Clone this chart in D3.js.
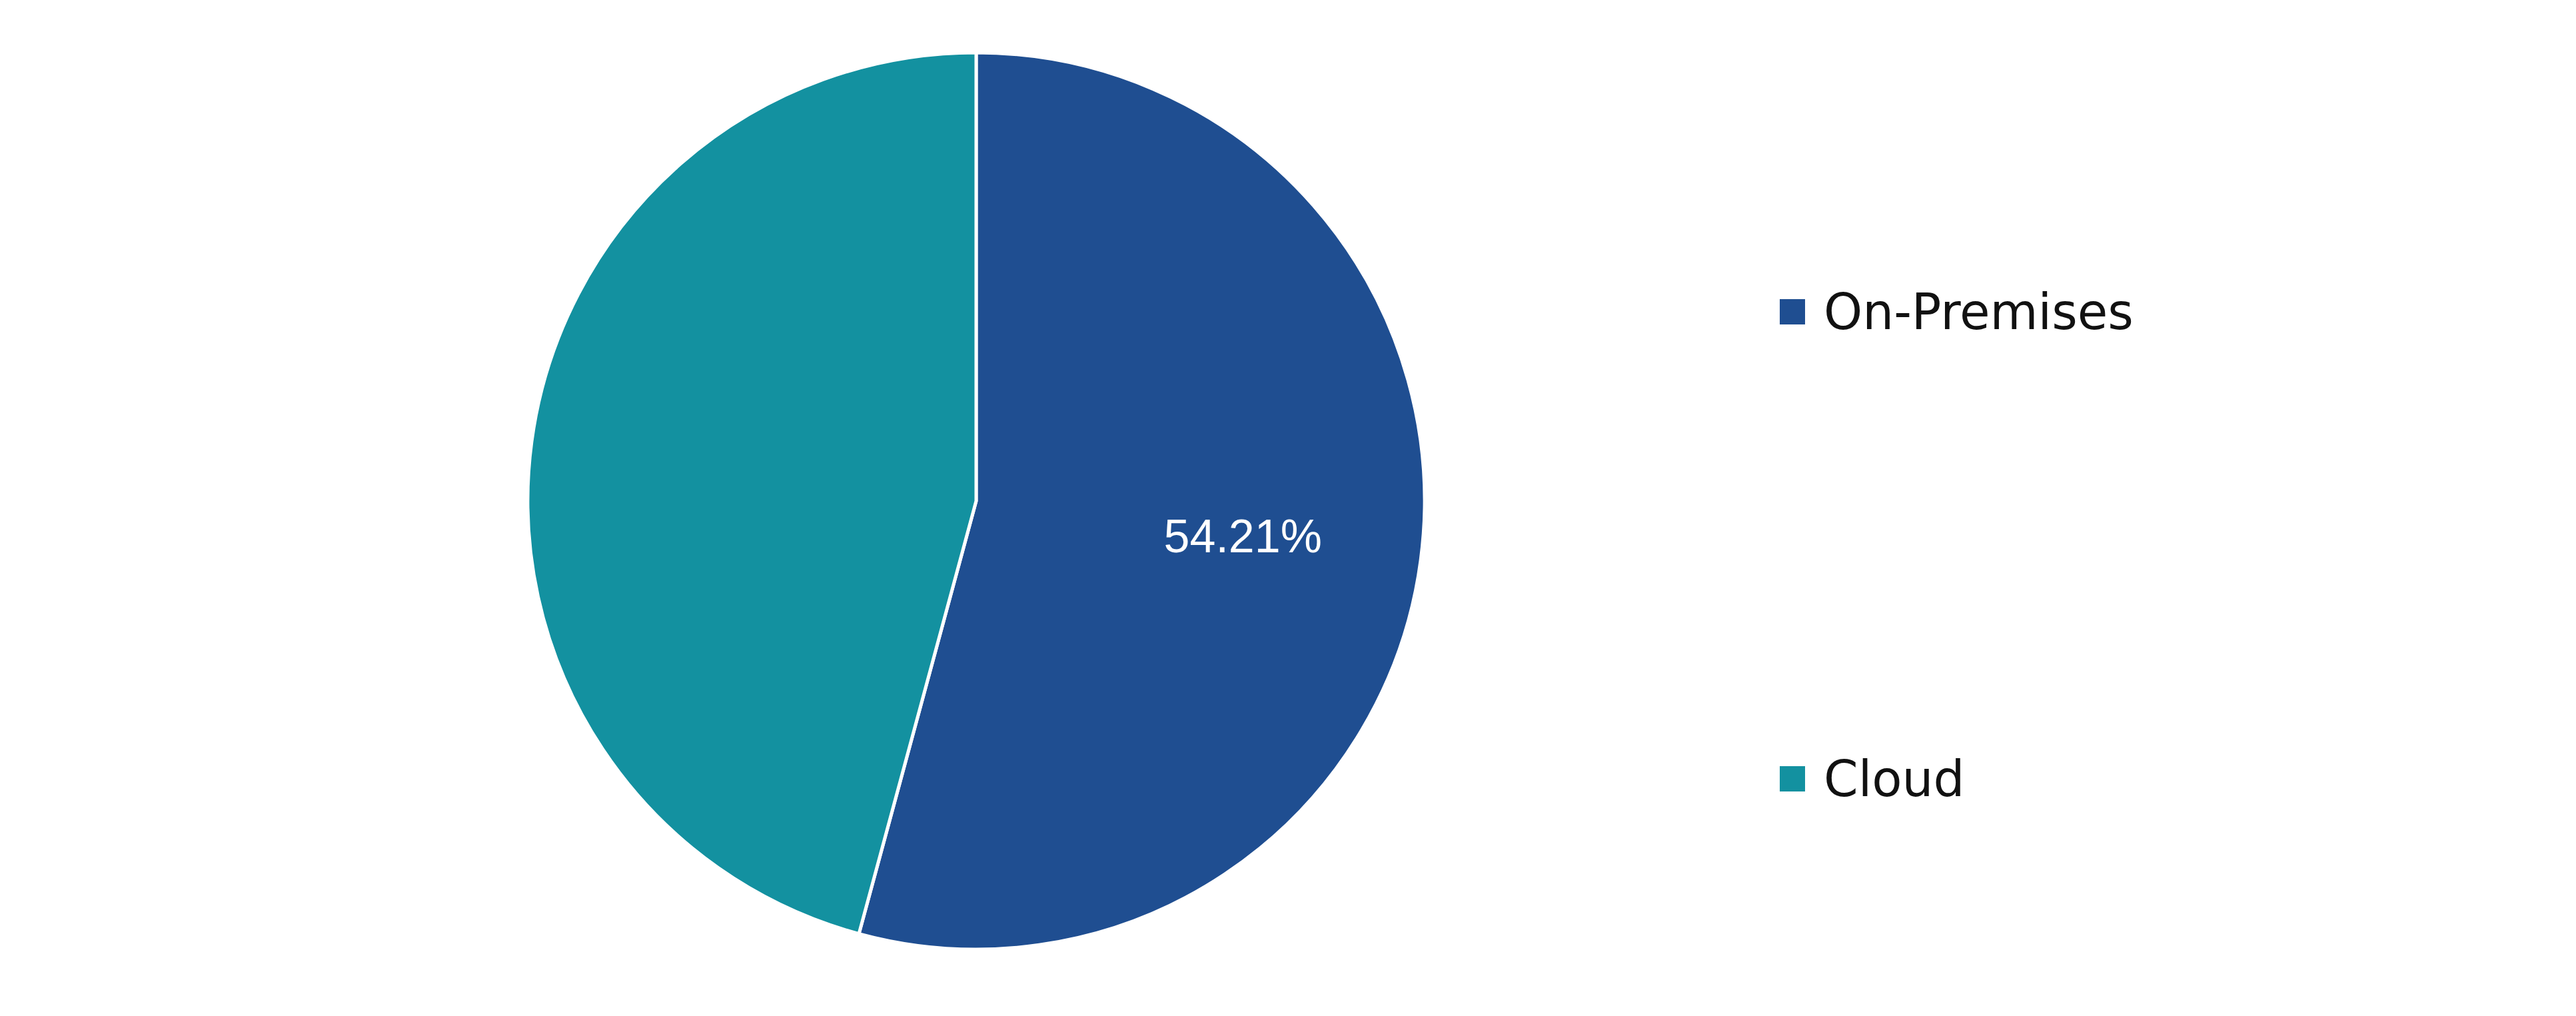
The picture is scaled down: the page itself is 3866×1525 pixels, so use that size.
<!DOCTYPE html>
<html><head><meta charset="utf-8">
<script src="https://cdn.jsdelivr.net/npm/d3@7"></script>
<style>body{margin:0;background:#fff}</style>
</head><body>
<svg id="c" width="3866" height="1525"></svg>
<script>
const categories = ["On-Premises", "Cloud"];
const values = [54.21, 45.79];
const colors = ["#1F4E91", "#1391A0"];

const svg = d3.select("#c");
const cx = 1465, cy = 752, r = 673;
const pie = d3.pie().sort(null).value(d => d)(values);
const arc = d3.arc().innerRadius(0).outerRadius(r);
const g = svg.append("g").attr("transform", `translate(${cx},${cy})`);
g.selectAll("path").data(pie).join("path")
  .attr("d", arc).attr("fill", (d, i) => colors[i])
  .attr("stroke", "#fff").attr("stroke-width", 5);
const lab = d3.arc().innerRadius(r * 0.6).outerRadius(r * 0.6);
g.append("text")
  .attr("x", lab.centroid(pie[0])[0]).attr("y", lab.centroid(pie[0])[1] + 24)
  .attr("text-anchor", "middle").attr("fill", "#fff")
  .attr("font-family", "Liberation Sans, Arial").attr("font-size", 70)
  .text(values[0].toFixed(2) + "%");

const ly = d3.scalePoint().domain(categories).range([468, 1169]);
const lg = svg.selectAll("g.l").data(categories).join("g").attr("class", "l")
  .attr("transform", d => `translate(2671,${ly(d)})`);
lg.append("rect").attr("x", 0).attr("y", -19).attr("width", 38).attr("height", 38)
  .attr("fill", (d, i) => colors[i]);
lg.append("text").attr("x", 66).attr("y", 26)
  .attr("font-family", "DejaVu Sans, Verdana").attr("font-size", 74).attr("fill", "#111")
  .text(d => d);
</script>
</body></html>
